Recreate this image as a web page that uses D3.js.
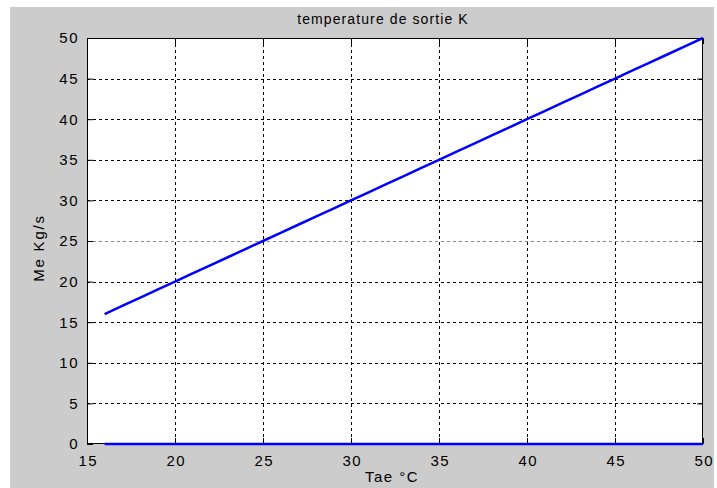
<!DOCTYPE html>
<html>
<head>
<meta charset="utf-8">
<script src="https://cdn.jsdelivr.net/npm/d3@7"></script>
<style>
  html, body { margin: 0; padding: 0; background: #fff; }
  svg { display: block; }
  text { font-family: "Liberation Sans", Arial, sans-serif; fill: #000; }
</style>
</head>
<body>
<svg id="chart" width="717" height="488"></svg>
<script>
// ---- data ----
const tae = [16,17,18,19,20,21,22,23,24,25,26,27,28,29,30,31,32,33,34,35,36,37,38,39,40,41,42,43,44,45,46,47,48,49,50];
const me  = [16,17,18,19,20,21,22,23,24,25,26,27,28,29,30,31,32,33,34,35,36,37,38,39,40,41,42,43,44,45,46,47,48,49,50];
const zeroLine = [0,0,0,0,0,0,0,0,0,0,0,0,0,0,0,0,0,0,0,0,0,0,0,0,0,0,0,0,0,0,0,0,0,0,0];
const xTicks = [15,20,25,30,35,40,45,50];
const yTicks = [0,5,10,15,20,25,30,35,40,45,50];
const titleText = "temperature de sortie K";
const xLabel = "Tae °C";
const yLabel = "Me Kg/s";

const svg = d3.select("#chart");
const L = 87, R = 703, T = 38, B = 444;

svg.append("rect").attr("x", 10).attr("y", 7).attr("width", 704).attr("height", 481).attr("fill", "#cccccc");
svg.append("rect").attr("x", L).attr("y", T).attr("width", R - L).attr("height", B - T).attr("fill", "#ffffff");

const x = d3.scaleLinear().domain([15, 50]).range([L, R]);
const y = d3.scaleLinear().domain([0, 50]).range([B, T]);

// grid
const grid = svg.append("g");
xTicks.slice(1, -1).forEach(v => {
  grid.append("line").attr("x1", Math.round(x(v)) + 0.5).attr("x2", Math.round(x(v)) + 0.5)
    .attr("y1", T).attr("y2", B).attr("stroke", "#000").attr("stroke-width", 1)
    .attr("stroke-dasharray", "3,3");
});
yTicks.slice(1, -1).forEach(v => {
  grid.append("line").attr("x1", L).attr("x2", R)
    .attr("y1", Math.round(y(v)) + 0.5).attr("y2", Math.round(y(v)) + 0.5)
    .attr("stroke", v === 25 ? "#8a8a8a" : "#000").attr("stroke-width", 1)
    .attr("stroke-dasharray", "3,3");
});

// axes via d3 axis (ticks inside)
const axB = svg.append("g").attr("transform", `translate(0,${B})`)
  .call(d3.axisBottom(x).tickValues(xTicks).tickSizeInner(-6).tickSizeOuter(0).tickPadding(11));
const axL = svg.append("g").attr("transform", `translate(${L},0)`)
  .call(d3.axisLeft(y).tickValues(yTicks).tickSizeInner(-6).tickSizeOuter(0).tickPadding(8));
const axT = svg.append("g").attr("transform", `translate(0,${T})`)
  .call(d3.axisTop(x).tickValues(xTicks).tickSizeInner(-6).tickSizeOuter(0).tickFormat(""));
const axR = svg.append("g").attr("transform", `translate(${R},0)`)
  .call(d3.axisRight(y).tickValues(yTicks).tickSizeInner(-6).tickSizeOuter(0).tickFormat(""));
[axB, axL, axT, axR].forEach(a => {
  a.select(".domain").remove();
  a.selectAll("line").attr("stroke", "#000");
  a.selectAll("text").style("font-family", "'Liberation Sans', Arial, sans-serif")
    .style("font-size", "15px").style("letter-spacing", "1.5px").attr("fill", "#000");
});
axB.selectAll("text").attr("dy", "0.71em").attr("dx", "0.75px");

// box
svg.append("rect").attr("x", L + 0.5).attr("y", T + 0.5).attr("width", R - L - 1).attr("height", B - T - 1)
  .attr("fill", "none").attr("stroke", "#000").attr("stroke-width", 1);

// lines
const line = d3.line().x(d => x(d[0])).y(d => y(d[1]));
svg.append("path").datum(tae.map((t, i) => [t, me[i]])).attr("d", line)
  .attr("fill", "none").attr("stroke", "#0000ff").attr("stroke-width", 2.5);
svg.append("path").datum(tae.map((t, i) => [t, zeroLine[i]])).attr("d", line)
  .attr("fill", "none").attr("stroke", "#0000ff").attr("stroke-width", 2.5);

// texts
svg.append("text").attr("x", 383).attr("y", 24).attr("text-anchor", "middle")
  .style("font-size", "14px").style("letter-spacing", "1.1px").text(titleText);
svg.append("text").attr("x", 392).attr("y", 482).attr("text-anchor", "middle")
  .style("font-size", "15px").style("letter-spacing", "1.5px").text(xLabel);
svg.append("text").attr("transform", "translate(44,248) rotate(-90)").attr("text-anchor", "middle")
  .style("font-size", "15px").style("letter-spacing", "1.8px").text(yLabel);
</script>
</body>
</html>
